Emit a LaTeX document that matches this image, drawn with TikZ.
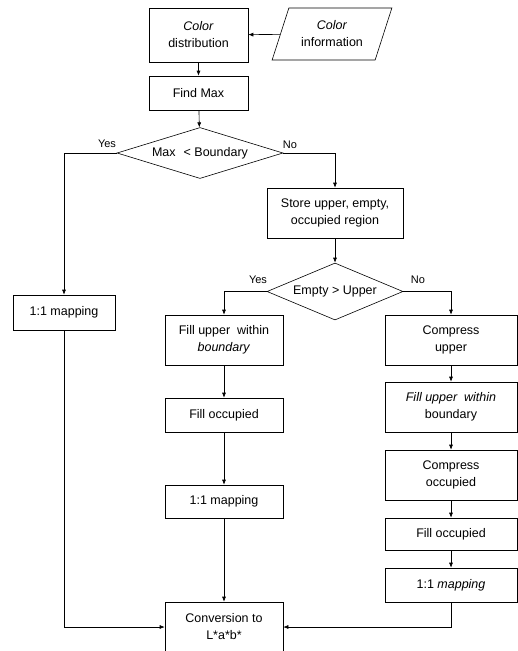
\documentclass[tikz,border=0pt]{standalone}
\usepackage{fontspec}
\setmainfont{Liberation Sans}
\usetikzlibrary{shapes.geometric,arrows.meta}
\begin{document}
\begin{tikzpicture}[x=1pt, y=-1pt,
        box/.style={rectangle, draw, line width=.6pt, align=center, inner sep=2pt, font=\fontsize{12.5}{17}\selectfont},
        decision/.style={diamond, draw, line width=.6pt, inner sep=1pt, font=\fontsize{12.5}{17}\selectfont},
        io/.style={trapezium, draw, line width=.6pt, trapezium left angle=68, trapezium right angle=112, trapezium stretches=true, align=center, font=\fontsize{12.5}{17}\selectfont},
        answer/.style={font=\fontsize{11}{13}\selectfont},
        flow/.style={-{Latex[length=5pt,width=4pt]}, line width=.6pt}
    ]
        \useasboundingbox (0,0) rectangle (518,651);

        \node[box, minimum width=99, minimum height=54] (CD) at (198.5,35) {\textit{Color}\\distribution};
        \node[io, minimum width=120, minimum height=52] (CI) at (332,34) {\textit{Color}\\information};
        \node[box, minimum width=99, minimum height=34] (FM) at (198.5,93) {Find Max};
        \node[decision, aspect=3.2, minimum width=166, minimum height=51] (D1) at (200,153) {Max\hspace{8pt}< Boundary};
        \node[box, minimum width=102, minimum height=35] (M1) at (64,312.5) {1:1 mapping};
        \node[box, minimum width=136, minimum height=50] (ST) at (335,213) {Store upper, empty,\\occupied region};
        \node[decision, aspect=2.5, minimum width=136, minimum height=57] (D2) at (335,291.5) {Empty > Upper};

        % left branch
        \node[box, minimum width=118, minimum height=50] (FU) at (224,340) {Fill upper\ \ within\\\textit{boundary}};
        \node[box, minimum width=118, minimum height=34] (FO) at (224,415) {Fill occupied};
        \node[box, minimum width=118, minimum height=33] (M2) at (224,501.5) {1:1 mapping};
        \node[box, minimum width=118, minimum height=50] (CV) at (224,627) {Conversion to\\L*a*b*};

        % right branch
        \node[box, minimum width=132, minimum height=50] (CU) at (451,340) {Compress\\upper};
        \node[box, minimum width=132, minimum height=50] (FB) at (451,407) {\textit{Fill upper\ \ within}\\boundary};
        \node[box, minimum width=132, minimum height=50] (CO) at (451,475) {Compress\\occupied};
        \node[box, minimum width=132, minimum height=32] (FO2) at (451,534) {Fill occupied};
        \node[box, minimum width=132, minimum height=34] (M3) at (451,585) {1:1 \textit{mapping}};

        \node[answer] (Y1) at (107,144) {Yes};
        \node[answer] (N1) at (290,145) {No};
        \node[answer] (Y2) at (258,280) {Yes};
        \node[answer] (N2) at (418,280) {No};

        \draw[flow] (CI) -- (CD);
        \draw[flow] (CD) -- (FM);
        \draw[flow] (FM) -- (D1);
        \draw[flow] (D1.west) -| (M1.north);
        \draw[flow] (D1.east) -| (ST.north);
        \draw[flow] (ST) -- (D2);
        \draw[flow] (D2.west) -| (FU.north);
        \draw[flow] (D2.east) -| (CU.north);
        \draw[flow] (FU) -- (FO);
        \draw[flow] (FO) -- (M2);
        \draw[flow] (M2) -- (CV);
        \draw[flow] (CU) -- (FB);
        \draw[flow] (FB) -- (CO);
        \draw[flow] (CO) -- (FO2);
        \draw[flow] (FO2) -- (M3);
        \draw[flow] (M1.south) |- (CV.west);
        \draw[flow] (M3.south) |- (CV.east);
    \end{tikzpicture}
\end{document}
